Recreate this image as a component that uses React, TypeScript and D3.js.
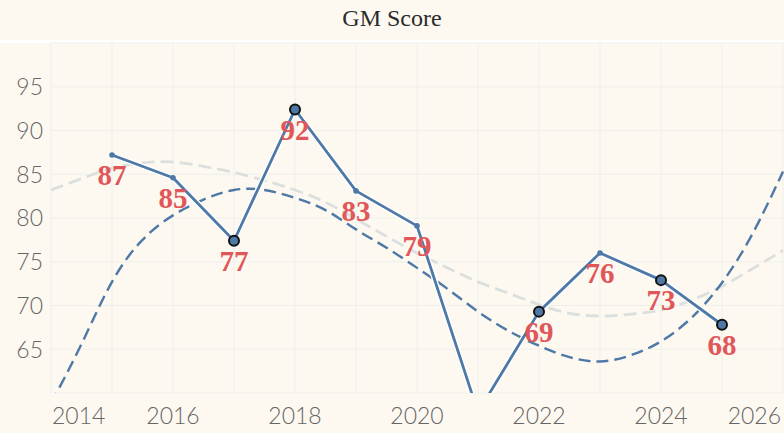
import React, { useEffect, useRef } from 'react';
import * as d3 from 'd3';

// GM score per year (2021 falls below the visible range)
const years = [2015, 2016, 2017, 2018, 2019, 2020, 2021, 2022, 2023, 2024, 2025];
const scores = [87.2, 84.6, 77.4, 92.4, 83.1, 79.1, 57.8, 69.3, 76.0, 72.9, 67.8];
const highlighted = [false, false, true, true, false, false, true, true, false, true, true];

const trendYears = [2014, 2014.5, 2015, 2015.5, 2016, 2016.5, 2017, 2017.5, 2018, 2018.5, 2019, 2019.5, 2020,
  2020.5, 2021, 2021.5, 2022, 2022.5, 2023, 2023.5, 2024, 2024.5, 2025, 2025.5, 2026];
const fitBlue = [58.8, 65.6, 72.7, 77.5, 80.3, 82.1, 83.2, 83.2, 82.3, 80.9, 78.7, 76.6, 74.3,
  71.9, 69.3, 67.1, 65.4, 64.1, 63.6, 64.3, 65.9, 68.6, 72.6, 78.2, 85.3];
const fitGrey = [83.2, 84.5, 85.7, 86.3, 86.4, 85.9, 85.2, 84.3, 83.2, 81.8, 79.9, 77.9, 76.0,
  74.3, 72.7, 71.4, 70.1, 69.1, 68.8, 69.0, 69.5, 70.6, 72.2, 74.2, 76.3];

const xTicks = [2014, 2016, 2018, 2020, 2022, 2024, 2026];
const yTicks = [65, 70, 75, 80, 85, 90, 95];

const W = 784;
const H = 433;
const margin = { top: 43, right: 2, bottom: 40, left: 51 };

const App: React.FC = () => {
  const svgRef = useRef<SVGSVGElement>(null);

  useEffect(() => {
    document.body.style.margin = '0';
    if (!svgRef.current) return;
    const svg = d3.select(svgRef.current);
    svg.selectAll('*').remove();

    const x = d3.scaleLinear().domain([2014, 2026]).range([margin.left, W - margin.right + 1]);
    const y = d3.scaleLinear().domain([60, 100]).range([H - margin.bottom, margin.top]);

    svg.append('rect').attr('width', W).attr('height', H).attr('fill', '#fdf9f1');
    svg.append('rect').attr('x', 0).attr('y', 40).attr('width', W).attr('height', 3).attr('fill', '#ffffff');

    svg.append('text')
      .attr('x', W / 2).attr('y', 26)
      .attr('text-anchor', 'middle')
      .attr('font-family', '"Liberation Serif", "Times New Roman", serif')
      .attr('font-size', 24)
      .attr('fill', '#2b2b2b')
      .text('GM Score');

    svg.append('defs').append('clipPath').attr('id', 'plot-clip')
      .append('rect')
      .attr('x', margin.left).attr('y', margin.top)
      .attr('width', W - margin.left).attr('height', H - margin.bottom - margin.top);

    // grid
    const grid = svg.append('g').attr('stroke', '#efefec').attr('stroke-width', 1);
    d3.range(2014, 2027).forEach(yr => {
      grid.append('line')
        .attr('x1', x(yr)).attr('x2', x(yr))
        .attr('y1', margin.top).attr('y2', H - margin.bottom);
    });
    d3.range(60, 101, 5).forEach(v => {
      grid.append('line')
        .attr('x1', margin.left).attr('x2', W)
        .attr('y1', y(v)).attr('y2', y(v));
    });

    const tickFont = 'Lato, "Noto Sans", sans-serif';
    svg.append('g').selectAll('text').data(yTicks).join('text')
      .attr('x', 43).attr('y', d => y(d))
      .attr('dy', '0.36em')
      .attr('text-anchor', 'end')
      .attr('font-family', tickFont)
      .attr('font-weight', 300)
      .attr('font-size', 23)
      .attr('fill', '#666')
      .text(d => d);

    svg.append('g').selectAll('text').data(xTicks).join('text')
      .attr('x', (d, i) => i === 0 ? x(d) + 1 : i === xTicks.length - 1 ? W - 3 : x(d))
      .attr('y', 424)
      .attr('text-anchor', (d, i) => i === 0 ? 'start' : i === xTicks.length - 1 ? 'end' : 'middle')
      .attr('font-family', tickFont)
      .attr('font-weight', 300)
      .attr('font-size', 23)
      .attr('fill', '#666')
      .text(d => d);

    const plot = svg.append('g').attr('clip-path', 'url(#plot-clip)');

    const trend = d3.line<number>()
      .x((_, i) => x(trendYears[i]))
      .y(d => y(d))
      .curve(d3.curveNatural);

    plot.append('path')
      .attr('d', trend(fitGrey))
      .attr('fill', 'none')
      .attr('stroke', '#dbe0df')
      .attr('stroke-width', 2.8)
      .attr('stroke-dasharray', '13,6');

    plot.append('path')
      .attr('d', trend(fitBlue))
      .attr('fill', 'none')
      .attr('stroke', '#4e79a7')
      .attr('stroke-width', 2.4)
      .attr('stroke-dasharray', '12,6');

    const line = d3.line<number>()
      .x((_, i) => x(years[i]))
      .y(d => y(d));

    plot.append('path')
      .attr('d', line(scores))
      .attr('fill', 'none')
      .attr('stroke', '#ffffff')
      .attr('stroke-width', 5.5)
      .attr('stroke-linejoin', 'round');
    plot.append('path')
      .attr('d', line(scores))
      .attr('fill', 'none')
      .attr('stroke', '#4e79a7')
      .attr('stroke-width', 2.8)
      .attr('stroke-linejoin', 'round');

    plot.append('g').selectAll('circle').data(scores).join('circle')
      .attr('cx', (_, i) => x(years[i]))
      .attr('cy', d => y(d))
      .attr('r', (_, i) => highlighted[i] ? 5 : 2.8)
      .attr('fill', '#4e79a7')
      .attr('stroke', (_, i) => highlighted[i] ? '#111' : 'none')
      .attr('stroke-width', 2);

    // value labels only for points inside the visible range
    const visible = scores.map((v, i) => ({ v, yr: years[i] })).filter(d => d.v >= 60);
    svg.append('g').selectAll('text').data(visible).join('text')
      .attr('x', d => x(d.yr))
      .attr('y', d => y(d.v) + 30)
      .attr('text-anchor', 'middle')
      .attr('font-family', '"Liberation Serif", "Times New Roman", serif')
      .attr('font-weight', 'bold')
      .attr('font-size', 29)
      .attr('fill', '#e15759')
      .text(d => Math.round(d.v));
  }, []);

  return <svg ref={svgRef} width={W} height={H} style={{ display: 'block' }} />;
};

export default App;
